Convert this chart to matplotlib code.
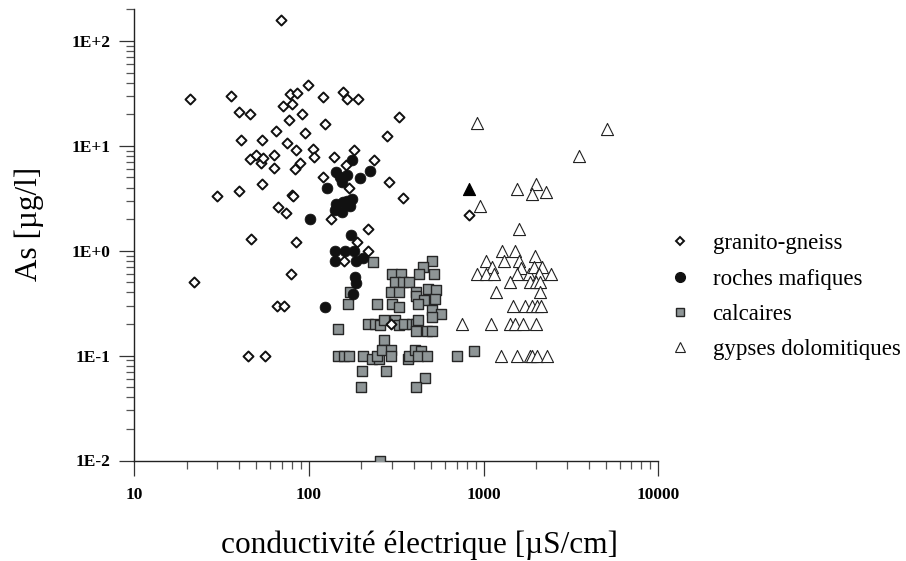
import matplotlib
matplotlib.use('Agg')
import matplotlib.pyplot as plt
from matplotlib.lines import Line2D
from matplotlib.ticker import LogLocator, NullFormatter, FixedLocator, FixedFormatter

# granito-gneiss (open diamonds)
gneiss_x = [69, 21, 36, 78, 86, 99, 121, 156, 166, 191, 71, 80, 40, 46, 92, 77, 124, 65, 95,
            330, 280, 41, 54, 75, 85, 105, 182, 107, 139, 237, 46, 50, 53, 55, 63, 63, 83, 89,
            163, 121, 288, 54, 169, 40, 30, 80, 81, 348, 67, 74, 134, 218, 47, 85, 188, 218,
            159, 22, 79, 66, 72, 45, 56, 295, 830]
gneiss_y = [158, 28, 30, 31, 32, 38, 29, 33, 28, 28, 24, 25, 21, 20, 20, 17.5, 16, 14, 13.4,
            19, 12.4, 11.4, 11.4, 10.6, 9.2, 9.3, 9.2, 7.9, 7.9, 7.3, 7.5, 8.2, 6.9, 7.6, 8.2, 6.1,
            6.0, 6.9, 6.6, 5.0, 4.5, 4.3, 4.0, 3.7, 3.3, 3.4, 3.3, 3.2, 2.6, 2.3, 2.0, 1.6, 1.3,
            1.2, 1.2, 1.0, 0.8, 0.5, 0.6, 0.3, 0.3, 0.1, 0.1, 0.2, 2.2]

# roches mafiques (filled circles)
mafic_x = [177, 224, 143, 151, 166, 155, 197, 127, 177, 143, 157, 168, 166, 141, 155, 172,
           102, 174, 141, 162, 182, 142, 185, 205, 183, 185, 180, 123]
mafic_y = [7.4, 5.7, 5.6, 5.1, 5.3, 4.5, 4.9, 4.0, 3.1, 2.8, 2.9, 2.8, 3.0, 2.45, 2.35, 2.7,
           2.0, 1.4, 1.0, 1.0, 1.0, 0.8, 0.8, 0.86, 0.56, 0.49, 0.39, 0.29]

# calcaires (grey squares)
calc_x = [232, 510, 449, 517, 428, 300, 339, 311, 348, 372, 413, 412, 295, 329, 482, 531, 526,
          457, 422, 172, 167, 246, 301, 328, 510, 574, 506, 217, 240, 254, 270, 313, 330, 351,
          389, 411, 424, 411, 474, 147, 271, 147, 160, 170, 204, 230, 253, 246, 263, 295, 295,
          367, 375, 406, 439, 421, 477, 704, 876, 202, 277, 461, 199, 413, 257, 506]
calc_y = [0.78, 0.8, 0.7, 0.6, 0.6, 0.6, 0.6, 0.5, 0.5, 0.5, 0.4, 0.37, 0.4, 0.4, 0.43, 0.42,
          0.35, 0.34, 0.31, 0.4, 0.31, 0.31, 0.31, 0.29, 0.27, 0.25, 0.235, 0.2, 0.2, 0.195,
          0.22, 0.22, 0.195, 0.2, 0.2, 0.2, 0.22, 0.17, 0.17, 0.18, 0.14, 0.1, 0.1, 0.1, 0.1,
          0.092, 0.092, 0.1, 0.113, 0.113, 0.1, 0.092, 0.1, 0.113, 0.11, 0.1, 0.1, 0.1, 0.11,
          0.071, 0.071, 0.061, 0.05, 0.05, 0.01, 0.17]

# gypses dolomitiques (open triangles)
gyps_x = [915, 5100, 3530, 1560, 2000, 1890, 2280, 952, 1600, 1280, 1520, 1030, 1310, 1590,
          1980, 1110, 915, 1030, 1150, 1630, 1560, 1820, 1950, 2170, 2080, 2420, 1410, 1840,
          2000, 2100, 1170, 2110, 1480, 1730, 1890, 2020, 2140, 751, 1100, 1420, 1520, 1680,
          2000, 1250, 1560, 1850, 1900, 2020, 2300]
gyps_y = [16.4, 14.6, 8.0, 3.9, 4.3, 3.5, 3.66, 2.67, 1.6, 1.0, 1.0, 0.79, 0.79, 0.79, 0.9,
          0.7, 0.6, 0.6, 0.6, 0.68, 0.6, 0.6, 0.7, 0.7, 0.6, 0.6, 0.5, 0.5, 0.5, 0.5, 0.4, 0.4,
          0.3, 0.3, 0.3, 0.3, 0.3, 0.2, 0.2, 0.2, 0.2, 0.2, 0.2, 0.1, 0.1, 0.1, 0.1, 0.1, 0.1]

# single filled triangle (unlabelled)
extra_x = [830]
extra_y = [3.84]

labels = ['granito-gneiss', 'roches mafiques', 'calcaires', 'gypses dolomitiques']
x_ticks = [10, 100, 1000, 10000]
x_tick_labels = ['10', '100', '1000', '10000']
y_ticks = [0.01, 0.1, 1, 10, 100]
y_tick_labels = ['1E-2', '1E-1', '1E+0', '1E+1', '1E+2']

SERIF = ['Liberation Serif', 'DejaVu Serif']
sq_face = '#8e9596'

fig = plt.figure(figsize=(9.06, 5.61), dpi=100)
ax = fig.add_axes([134 / 906, 1 - 460.5 / 561, (658.4 - 134) / 906, (460.5 - 9) / 561])
ax.set_xscale('log')
ax.set_yscale('log')
ax.set_xlim(10, 10000)
ax.set_ylim(0.01, 202)

ax.scatter(gyps_x, gyps_y, marker='^', s=8.7 ** 2, facecolors='white', edgecolors='#222222',
           linewidths=0.8, zorder=3)
ax.scatter(extra_x, extra_y, marker='^', s=8.7 ** 2, facecolors='black', edgecolors='black',
           linewidths=0.8, zorder=3)
ax.scatter(calc_x, calc_y, marker='s', s=6.8 ** 2, facecolors=sq_face, edgecolors='#262626',
           linewidths=1.0, zorder=4)
ax.scatter(mafic_x, mafic_y, marker='o', s=7.8 ** 2, facecolors='#111111', edgecolors='#111111',
           linewidths=0.5, zorder=5)
ax.scatter(gneiss_x, gneiss_y, marker='D', s=5.1 ** 2, facecolors='white', edgecolors='#111111',
           linewidths=1.4, zorder=6)

for s in ['top', 'right']:
    ax.spines[s].set_visible(False)
for s in ['left', 'bottom']:
    ax.spines[s].set_linewidth(1.0)
    ax.spines[s].set_color('#222222')

ax.xaxis.set_major_locator(FixedLocator(x_ticks))
ax.xaxis.set_major_formatter(FixedFormatter(x_tick_labels))
ax.yaxis.set_major_locator(FixedLocator(y_ticks))
ax.yaxis.set_major_formatter(FixedFormatter(y_tick_labels))
ax.xaxis.set_minor_locator(LogLocator(base=10, subs=range(2, 10), numticks=20))
ax.yaxis.set_minor_locator(LogLocator(base=10, subs=range(2, 10), numticks=20))
ax.xaxis.set_minor_formatter(NullFormatter())
ax.yaxis.set_minor_formatter(NullFormatter())
ax.tick_params(which='major', length=11, width=0.9, direction='out', color='#333333')
ax.tick_params(axis='x', which='major', pad=8)
ax.tick_params(axis='y', which='major', pad=6)
ax.tick_params(which='minor', length=6, width=0.9, direction='out', color='#555555')
for lab in ax.get_xticklabels() + ax.get_yticklabels():
    lab.set_fontfamily(SERIF)
    lab.set_fontweight('bold')
    lab.set_fontsize(12.5)

ax.set_xlabel('conductivité électrique [µS/cm]', fontsize=22.5, family=SERIF, va='center')
ax.xaxis.set_label_coords(0.545, (460.5 - 545) / 451.5)
ax.set_ylabel('As [µg/l]', fontsize=22.5, family=SERIF, va='center')
ax.yaxis.set_label_coords((29 - 134) / 524.4, (460.5 - 224) / 451.5)

handles = [
    Line2D([], [], ls='none', marker='D', ms=4.4, mfc='white', mec='#111111', mew=1.4),
    Line2D([], [], ls='none', marker='o', ms=7.0, mfc='#111111', mec='#111111'),
    Line2D([], [], ls='none', marker='s', ms=6.2, mfc=sq_face, mec='#262626', mew=1.0),
    Line2D([], [], ls='none', marker='^', ms=7.8, mfc='white', mec='#222222', mew=0.8),
]
fig.legend(handles, labels, loc='upper left', bbox_to_anchor=(669 / 906, 1 - 233 / 561),
           frameon=False, prop={'family': SERIF, 'size': 16.5}, borderpad=0,
           handlelength=1.0, handletextpad=0.9, labelspacing=0.63, borderaxespad=0)

fig.savefig('out.png', dpi=100)
